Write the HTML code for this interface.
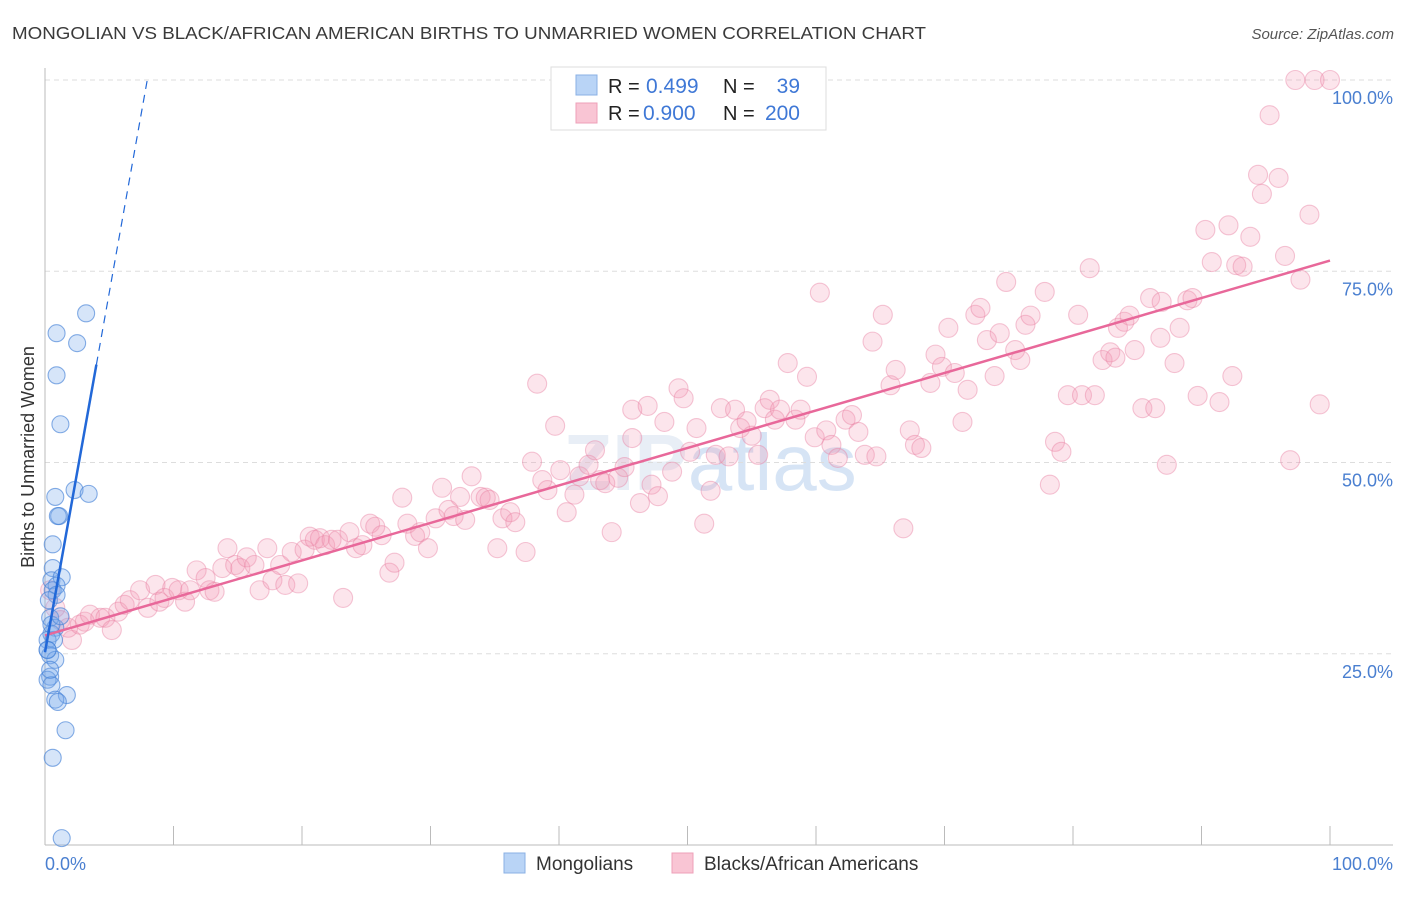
<!DOCTYPE html>
<html><head><meta charset="utf-8"><style>
body{margin:0;background:#fff;font-family:"Liberation Sans",sans-serif;}
</style></head><body>
<svg width="1406" height="892" xmlns="http://www.w3.org/2000/svg" font-family="Liberation Sans, sans-serif">
<text x="12" y="39" font-size="17.5" fill="#3a3a3a" textLength="914" lengthAdjust="spacingAndGlyphs">MONGOLIAN VS BLACK/AFRICAN AMERICAN BIRTHS TO UNMARRIED WOMEN CORRELATION CHART</text>
<text x="1394" y="39" font-size="15" fill="#555" text-anchor="end" font-style="italic">Source: ZipAtlas.com</text>
<text x="710" y="490" font-size="80" fill="#e8eef6" text-anchor="middle" font-weight="bold">ZIP<tspan fill="#d6e4f5" font-weight="normal">atlas</tspan></text>
<g id="grid"></g>
<g id="axes"></g>
<g id="pts"></g>
<g id="lines"></g>
<text transform="translate(34,457) rotate(-90)" font-size="18" fill="#333" text-anchor="middle">Births to Unmarried Women</text>
<text x="45" y="870" font-size="18" fill="#4a7fd0">0.0%</text>
<text x="1393" y="870" font-size="18" fill="#4a7fd0" text-anchor="end">100.0%</text>
<g>
<rect x="551" y="67" width="275" height="63" fill="#fff" stroke="#ddd"/>
<rect x="576" y="75" width="21" height="20" fill="#b9d4f6" stroke="#8ab0e4"/>
<rect x="576" y="103" width="21" height="20" fill="#f9c5d4" stroke="#eea0b8"/>
<text x="608" y="93" font-size="20" fill="#222">R =</text>
<text x="646" y="93" font-size="21" fill="#3f78d6">0.499</text>
<text x="723" y="93" font-size="20" fill="#222">N =</text>
<text x="800" y="93" font-size="21" fill="#3f78d6" text-anchor="end">39</text>
<text x="608" y="120" font-size="20" fill="#222">R =</text>
<text x="643" y="120" font-size="21" fill="#3f78d6">0.900</text>
<text x="723" y="120" font-size="20" fill="#222">N =</text>
<text x="800" y="120" font-size="21" fill="#3f78d6" text-anchor="end">200</text>
</g>
<g>
<rect x="504" y="853" width="21" height="20" fill="#b9d4f6" stroke="#8ab0e4"/>
<text x="536" y="870" font-size="19" fill="#333">Mongolians</text>
<rect x="672" y="853" width="21" height="20" fill="#f9c5d4" stroke="#eea0b8"/>
<text x="704" y="870" font-size="19" fill="#333">Blacks/African Americans</text>
</g>
</svg>
<script>
const blueX=[3.2,0.9,2.5,0.9,1.2,2.3,3.4,0.8,1.1,1.0,0.6,0.6,0.5,1.3,0.9,0.6,0.4,0.8,0.5,0.2,0.7,0.2,0.4,0.8,0.4,0.2,0.5,1.7,0.8,1.0,1.6,0.6,1.3,0.2,0.5,0.9,0.3,1.2,0.4];
const blueY=[69.5,66.9,65.6,61.4,55.0,46.4,45.9,45.5,43.0,43.0,39.3,36.2,34.6,35.0,33.9,33.3,29.7,28.4,27.6,26.8,26.8,25.5,24.8,24.2,22.0,21.6,20.9,19.6,19.0,18.7,15.0,11.4,0.9,25.5,28.8,32.7,32.0,29.9,22.9];
const pinkX=[0.4,0.8,1.2,2.1,1.8,2.7,3.1,3.5,4.3,4.7,5.2,5.7,6.2,6.6,7.4,8.0,8.6,8.9,9.3,9.9,10.4,10.9,11.3,11.8,12.5,12.8,13.2,13.8,14.2,14.8,15.2,15.7,16.3,16.7,17.3,17.7,18.3,18.7,19.2,19.7,20.2,20.6,21.0,21.4,21.8,22.3,22.8,23.2,23.7,24.2,24.7,25.3,25.7,26.2,26.8,27.2,27.8,28.2,28.8,29.2,29.8,30.4,30.9,31.4,31.8,32.3,32.7,33.2,33.9,34.3,34.6,35.2,35.6,36.2,36.6,37.4,37.9,38.3,38.7,39.1,39.7,40.1,40.6,41.2,41.6,42.3,42.8,43.2,43.6,44.1,44.6,45.1,45.7,45.7,46.3,46.9,47.2,47.7,48.2,48.8,49.3,49.7,50.2,50.7,51.3,51.8,52.2,52.6,53.2,53.7,54.1,54.6,55.0,55.5,56.0,56.4,56.8,57.2,57.8,58.4,58.8,59.3,59.9,60.3,60.8,61.2,61.7,62.3,62.8,63.3,63.8,64.4,64.7,65.2,65.8,66.2,66.8,67.3,67.7,68.2,68.9,69.3,69.8,70.3,70.8,71.4,71.8,72.4,72.8,73.3,73.9,74.3,74.8,75.5,75.9,76.3,76.7,77.8,78.2,78.6,79.1,79.6,80.4,80.7,81.3,81.7,82.3,82.9,83.5,84.0,84.4,84.8,85.4,86.0,86.4,86.8,87.3,87.9,88.3,88.9,89.3,89.7,90.3,90.8,91.4,92.1,92.7,93.2,93.8,94.4,94.7,95.3,96.0,96.5,96.9,97.3,97.7,98.4,98.8,99.2,100,92.4,86.9,83.3];
const pinkY=[33.3,31.0,29.4,26.8,28.4,28.8,29.2,30.1,29.7,29.7,28.1,30.5,31.4,32.0,33.3,31.0,34.0,31.8,32.3,33.6,33.3,31.8,33.3,35.9,34.9,33.3,33.1,36.2,38.8,36.6,36.2,37.6,36.6,33.3,38.8,34.6,36.6,34.0,38.3,34.2,38.6,40.3,39.9,40.1,39.2,39.9,39.9,32.3,40.9,38.8,39.2,42.0,41.6,40.5,35.6,36.9,45.4,42.0,40.4,40.9,38.8,42.7,46.7,43.8,43.0,45.5,42.5,48.2,45.5,45.4,45.1,38.8,42.7,43.5,42.2,38.3,50.1,60.3,47.7,46.4,54.8,49.0,43.5,45.8,48.2,49.7,51.6,47.7,47.3,40.9,48.0,49.4,53.2,56.9,44.7,57.4,47.1,45.6,55.3,48.8,59.7,58.4,51.4,54.5,42.0,46.3,51.0,57.1,50.8,56.9,54.5,55.4,53.5,51.0,57.1,58.2,55.6,56.9,63.0,55.6,56.9,61.2,53.3,72.2,54.2,52.3,50.6,55.6,56.2,54.0,51.0,65.8,50.8,69.3,60.1,62.1,41.4,54.2,52.3,51.9,60.4,64.1,62.5,67.6,61.7,55.3,59.5,69.3,70.2,66.0,61.3,66.9,73.6,64.7,63.4,68.0,69.2,72.3,47.1,52.7,51.4,58.8,69.3,58.8,75.4,58.8,63.4,64.4,67.6,68.4,69.2,64.7,57.1,71.5,57.1,66.3,49.7,63.0,67.6,71.2,71.5,58.7,80.4,76.2,57.9,81.0,75.8,75.6,79.5,87.6,85.1,95.4,87.2,77.0,50.3,100,73.9,82.4,100,57.6,100,61.3,71.0,63.7];
const yTicks=[25,50,75,100];
const yTickLabels=["25.0%","50.0%","75.0%","100.0%"];
const xTicks=[0,10,20,30,40,50,60,70,80,90,100];
const blueTrend=[25.2,9.4];
const pinkTrend=[27.4,0.49];
const blueSolidEnd=4.0;
const NS="http://www.w3.org/2000/svg";
const X=v=>45+v*12.85, Y=v=>845-v*7.65;
function mk(tag,attrs,parent){const e=document.createElementNS(NS,tag);for(const k in attrs)e.setAttribute(k,attrs[k]);document.getElementById(parent).appendChild(e);return e;}
yTicks.forEach((t,i)=>{
 const g=mk('line',{x1:45,x2:1393,y1:Y(t),y2:Y(t),stroke:'#ddd','stroke-dasharray':'5,4'},'grid');
 
 
 const tx=mk('text',{x:1393,y:Y(t)+24,'font-size':18,fill:'#4a7fd0','text-anchor':'end'},'grid');
 tx.textContent=yTickLabels[i];
 
 
});
let ax=mk('line',{x1:45,x2:45,y1:68,y2:845,stroke:'#bbb'},'axes');


ax=mk('line',{x1:45,x2:1393,y1:845,y2:845,stroke:'#bbb'},'axes');


xTicks.forEach(t=>{const l=mk('line',{x1:X(t),x2:X(t),y1:826,y2:845,stroke:'#bbb'},'axes');
 
 });
pinkX.forEach((v,i)=>{const c=mk('circle',{cx:X(v),cy:Y(pinkY[i]),r:9.5,fill:'rgba(244,150,180,0.25)',stroke:'rgba(232,130,165,0.45)','stroke-width':1.1},'pts');
 
 });
blueX.forEach((v,i)=>{const c=mk('circle',{cx:X(v),cy:Y(blueY[i]),r:8.5,fill:'rgba(120,170,235,0.3)',stroke:'rgba(70,130,215,0.65)','stroke-width':1.1},'pts');
 
 });
let l=mk('line',{x1:X(0),y1:Y(pinkTrend[0]),x2:X(100),y2:Y(pinkTrend[0]+pinkTrend[1]*100),stroke:'#e8689a','stroke-width':2.5},'lines');


l=mk('line',{x1:X(0),y1:Y(blueTrend[0]),x2:X(blueSolidEnd),y2:Y(blueTrend[0]+blueTrend[1]*blueSolidEnd),stroke:'#2268d8','stroke-width':2.5},'lines');


const xEnd=(100-blueTrend[0])/blueTrend[1];
l=mk('line',{x1:X(blueSolidEnd),y1:Y(blueTrend[0]+blueTrend[1]*blueSolidEnd),x2:X(xEnd),y2:Y(100),stroke:'#2268d8','stroke-width':1.2,'stroke-dasharray':'8,6'},'lines');


</script>
</body></html>
